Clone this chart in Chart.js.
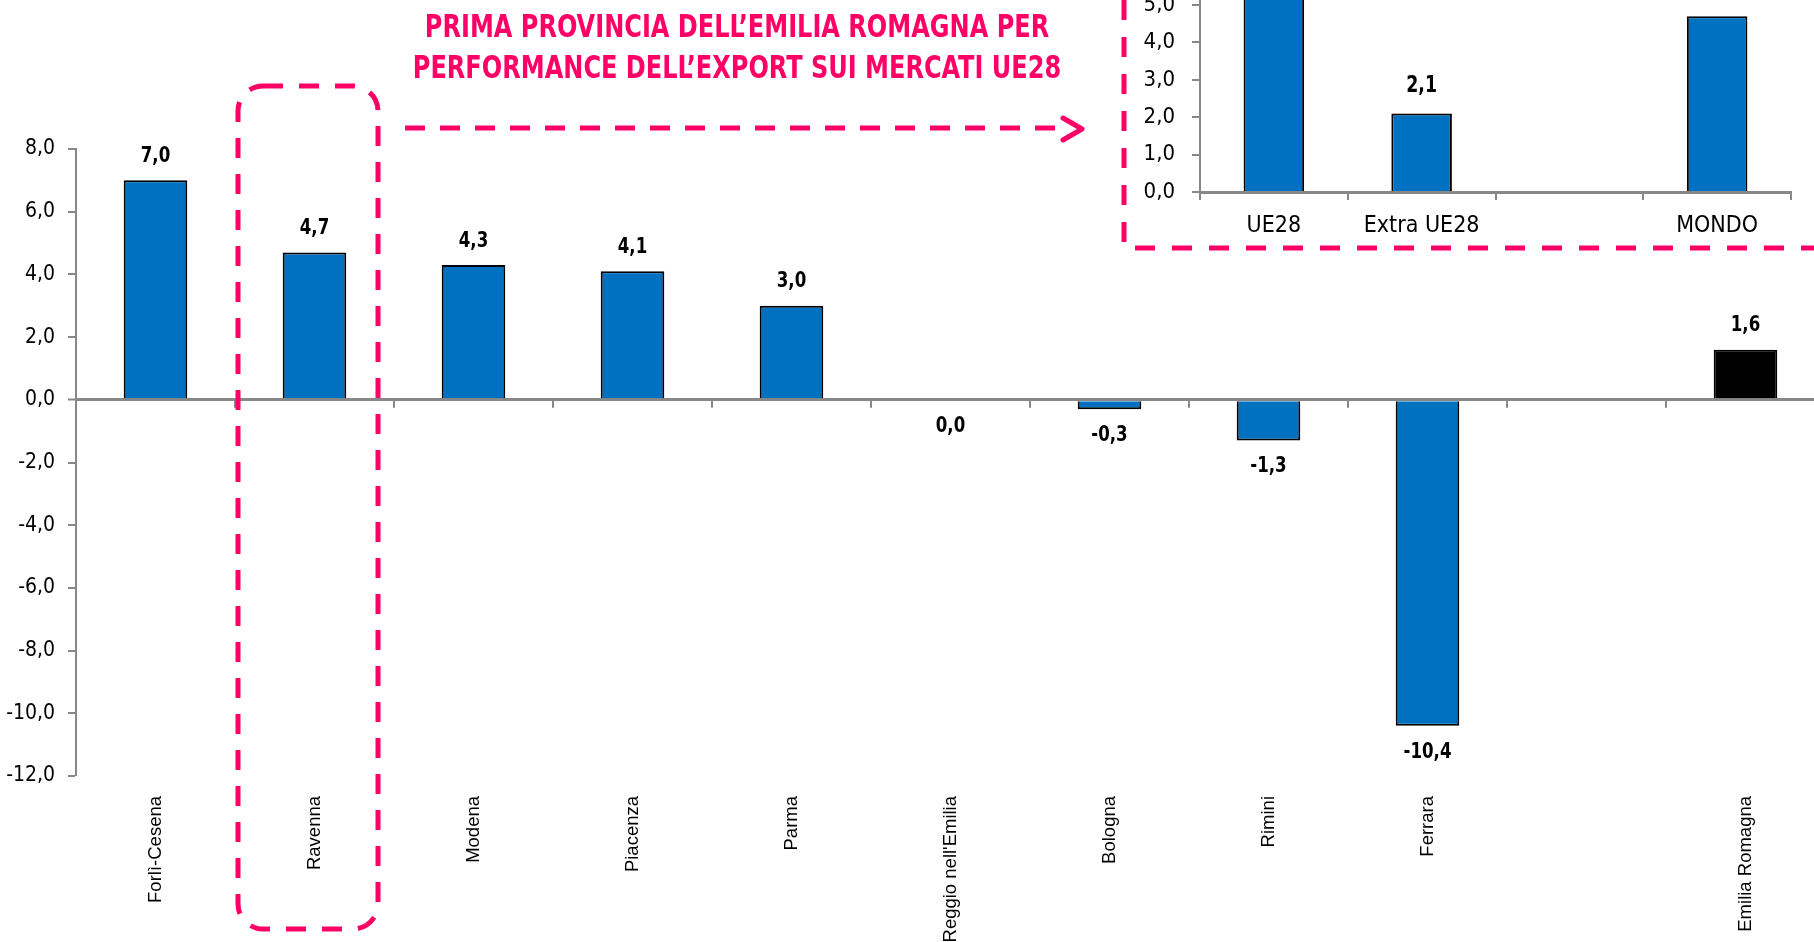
<!DOCTYPE html>
<html lang="it">
<head>
    <meta charset="UTF-8">
    <title>Export province Emilia Romagna</title>
    <script src="https://cdn.jsdelivr.net/npm/chart.js"></script>
    <style>
        body {
            margin: 0;
            width: 1814px;
            height: 942px;
            overflow: hidden;
            background: #fff;
            position: relative;
            font-family: "Liberation Sans Narrow", "Arial Narrow", "DejaVu Sans Condensed", sans-serif;
        }
        #main { position: absolute; left: 0; top: 0; }
        #inset { position: absolute; left: 1130px; top: -100px; }
        #deco { position: absolute; left: 0; top: 0; pointer-events: none; }
        .title {
            position: absolute;
            left: 337px;
            width: 800px;
            top: 6px;
            text-align: center;
            color: #ff0066;
            font-weight: bold;
            font-size: 32px;
            line-height: 41px;
            transform: scaleX(0.835);
            transform-origin: 400px 0;
        }
    </style>
</head>
<body>
    <canvas id="main" width="1830" height="942"></canvas>
    <canvas id="inset" width="700" height="340"></canvas>

    <svg id="deco" width="1814" height="942">
        <g fill="none" stroke="#ff0066" stroke-width="5">
            <!-- riquadro Ravenna -->
            <rect x="238" y="86" width="140" height="843" rx="25" stroke-dasharray="20 16"/>
            <!-- freccia -->
            <line x1="405" y1="128" x2="1060" y2="128" stroke-dasharray="20 15"/>
            <polyline points="1063,118 1082,129 1063,140" stroke-linecap="round" stroke-linejoin="round"/>
            <!-- riquadro grafico Ravenna -->
            <path d="M1124,0 L1124,248 L1814,248" stroke-dasharray="20 17"/>
        </g>
    </svg>

    <div class="title">PRIMA PROVINCIA DELL’EMILIA ROMAGNA PER<br>PERFORMANCE DELL’EXPORT SUI MERCATI UE28</div>

    <script>
        // variazione % export per provincia
        const province = ['Forlì-Cesena', 'Ravenna', 'Modena', 'Piacenza', 'Parma', "Reggio nell'Emilia",
                          'Bologna', 'Rimini', 'Ferrara', '', 'Emilia Romagna'];
        const variazione = [7.0, 4.7, 4.3, 4.1, 3.0, 0.0, -0.3, -1.3, -10.4, null, 1.6];
        const yMin = -12, yMax = 8, yStep = 2;

        // Ravenna per mercato (UE28 esce dal riquadro, valore stimato)
        const mercati = ['UE28', 'Extra UE28', '', 'MONDO'];
        const ravenna = [6.6, 2.1, null, 4.7];
        const insetMin = 0, insetMax = 7, insetStep = 1;

        const NARROW = '"Liberation Sans Narrow", "Arial Narrow", "DejaVu Sans Condensed", sans-serif';
        const ARIAL = '"Liberation Sans", Arial, sans-serif';
        const BLUE = '#0070C0';
        const GREY = '#888888';

        const fmt = v => Number(v).toFixed(1).replace('.', ',');

        // etichette dei valori, un po' schiacciate in orizzontale
        const valueLabels = {
            id: 'valueLabels',
            afterDatasetsDraw(chart, args, opts) {
                const ctx = chart.ctx;
                ctx.save();
                ctx.font = opts.font;
                ctx.fillStyle = '#000';
                ctx.textAlign = 'center';
                ctx.textBaseline = 'middle';
                chart.data.datasets.forEach((ds, di) => {
                    chart.getDatasetMeta(di).data.forEach((bar, i) => {
                        const v = ds.data[i];
                        if (v === null || v === undefined) return;
                        const y = v > 0 ? bar.y - opts.above : bar.y + opts.below;
                        ctx.save();
                        ctx.translate(bar.x, y);
                        ctx.scale(0.84, 1);
                        ctx.fillText(fmt(v), 0, 0);
                        ctx.restore();
                    });
                });
                ctx.restore();
            }
        };

        // tacche delle categorie sulla linea dello zero
        const zeroTicks = {
            id: 'zeroTicks',
            afterDatasetsDraw(chart) {
                const ctx = chart.ctx;
                const xs = chart.scales.x;
                const y0 = chart.scales.y.getPixelForValue(0);
                ctx.save();
                ctx.strokeStyle = GREY;
                ctx.lineWidth = 2;
                ctx.beginPath();
                for (let i = 1; i <= xs.ticks.length; i++) {
                    const px = Math.round(xs.getPixelForValue(i - 0.5));
                    ctx.moveTo(px, y0);
                    ctx.lineTo(px, y0 + 8);
                }
                ctx.stroke();
                ctx.restore();
            }
        };

        new Chart(document.getElementById('main'), {
            type: 'bar',
            data: {
                labels: province,
                datasets: [{
                    data: variazione,
                    backgroundColor: c => c.dataIndex === province.length - 1 ? '#000' : BLUE,
                    borderColor: '#000',
                    borderWidth: 2,
                    barPercentage: 0.4,
                    categoryPercentage: 1
                }]
            },
            options: {
                responsive: false,
                animation: false,
                layout: { padding: { top: 149, right: 5, left: 0, bottom: 0 } },
                plugins: {
                    legend: { display: false },
                    tooltip: { enabled: false },
                    valueLabels: { font: 'bold 22px ' + NARROW, above: 24, below: 26 }
                },
                scales: {
                    x: {
                        grid: { display: false },
                        border: { display: false },
                        ticks: {
                            autoSkip: false,
                            minRotation: 90,
                            maxRotation: 90,
                            padding: 12,
                            color: '#000',
                            font: { family: ARIAL, size: 18.5 }
                        },
                        afterFit: s => { s.height = 166; }
                    },
                    y: {
                        min: yMin,
                        max: yMax,
                        ticks: {
                            stepSize: yStep,
                            padding: 13,
                            color: '#000',
                            font: { family: NARROW, size: 21 },
                            callback: v => fmt(v)
                        },
                        grid: {
                            color: c => c.tick && c.tick.value === 0 ? GREY : 'rgba(0,0,0,0)',
                            lineWidth: c => c.tick && c.tick.value === 0 ? 3 : 0,
                            tickColor: GREY,
                            tickWidth: 2,
                            tickLength: 8
                        },
                        border: { color: GREY, width: 2 },
                        afterFit: s => { s.width = 76; }
                    }
                }
            },
            plugins: [valueLabels, zeroTicks]
        });

        new Chart(document.getElementById('inset'), {
            type: 'bar',
            data: {
                labels: mercati,
                datasets: [{
                    data: ravenna,
                    backgroundColor: BLUE,
                    borderColor: '#000',
                    borderWidth: 2,
                    barPercentage: 0.41,
                    categoryPercentage: 1
                }]
            },
            options: {
                responsive: false,
                animation: false,
                layout: { padding: { top: 23, right: 39, left: 0, bottom: 0 } },
                plugins: {
                    legend: { display: false },
                    tooltip: { enabled: false },
                    valueLabels: { font: 'bold 23px ' + NARROW, above: 27, below: 26 }
                },
                scales: {
                    x: {
                        grid: { offset: true, drawOnChartArea: false, color: GREY, lineWidth: 2, tickLength: 8 },
                        border: { color: GREY, width: 3 },
                        ticks: {
                            maxRotation: 0,
                            padding: 12,
                            color: '#000',
                            font: { family: NARROW, size: 23 }
                        },
                        afterFit: s => { s.height = 48; }
                    },
                    y: {
                        min: insetMin,
                        max: insetMax,
                        ticks: {
                            stepSize: insetStep,
                            padding: 17,
                            color: '#000',
                            font: { family: NARROW, size: 22 },
                            callback: v => fmt(v)
                        },
                        grid: { drawOnChartArea: false, color: GREY, lineWidth: 2, tickLength: 8 },
                        border: { color: GREY, width: 2 },
                        afterFit: s => { s.width = 70; }
                    }
                }
            },
            plugins: [valueLabels]
        });
    </script>
</body>
</html>
